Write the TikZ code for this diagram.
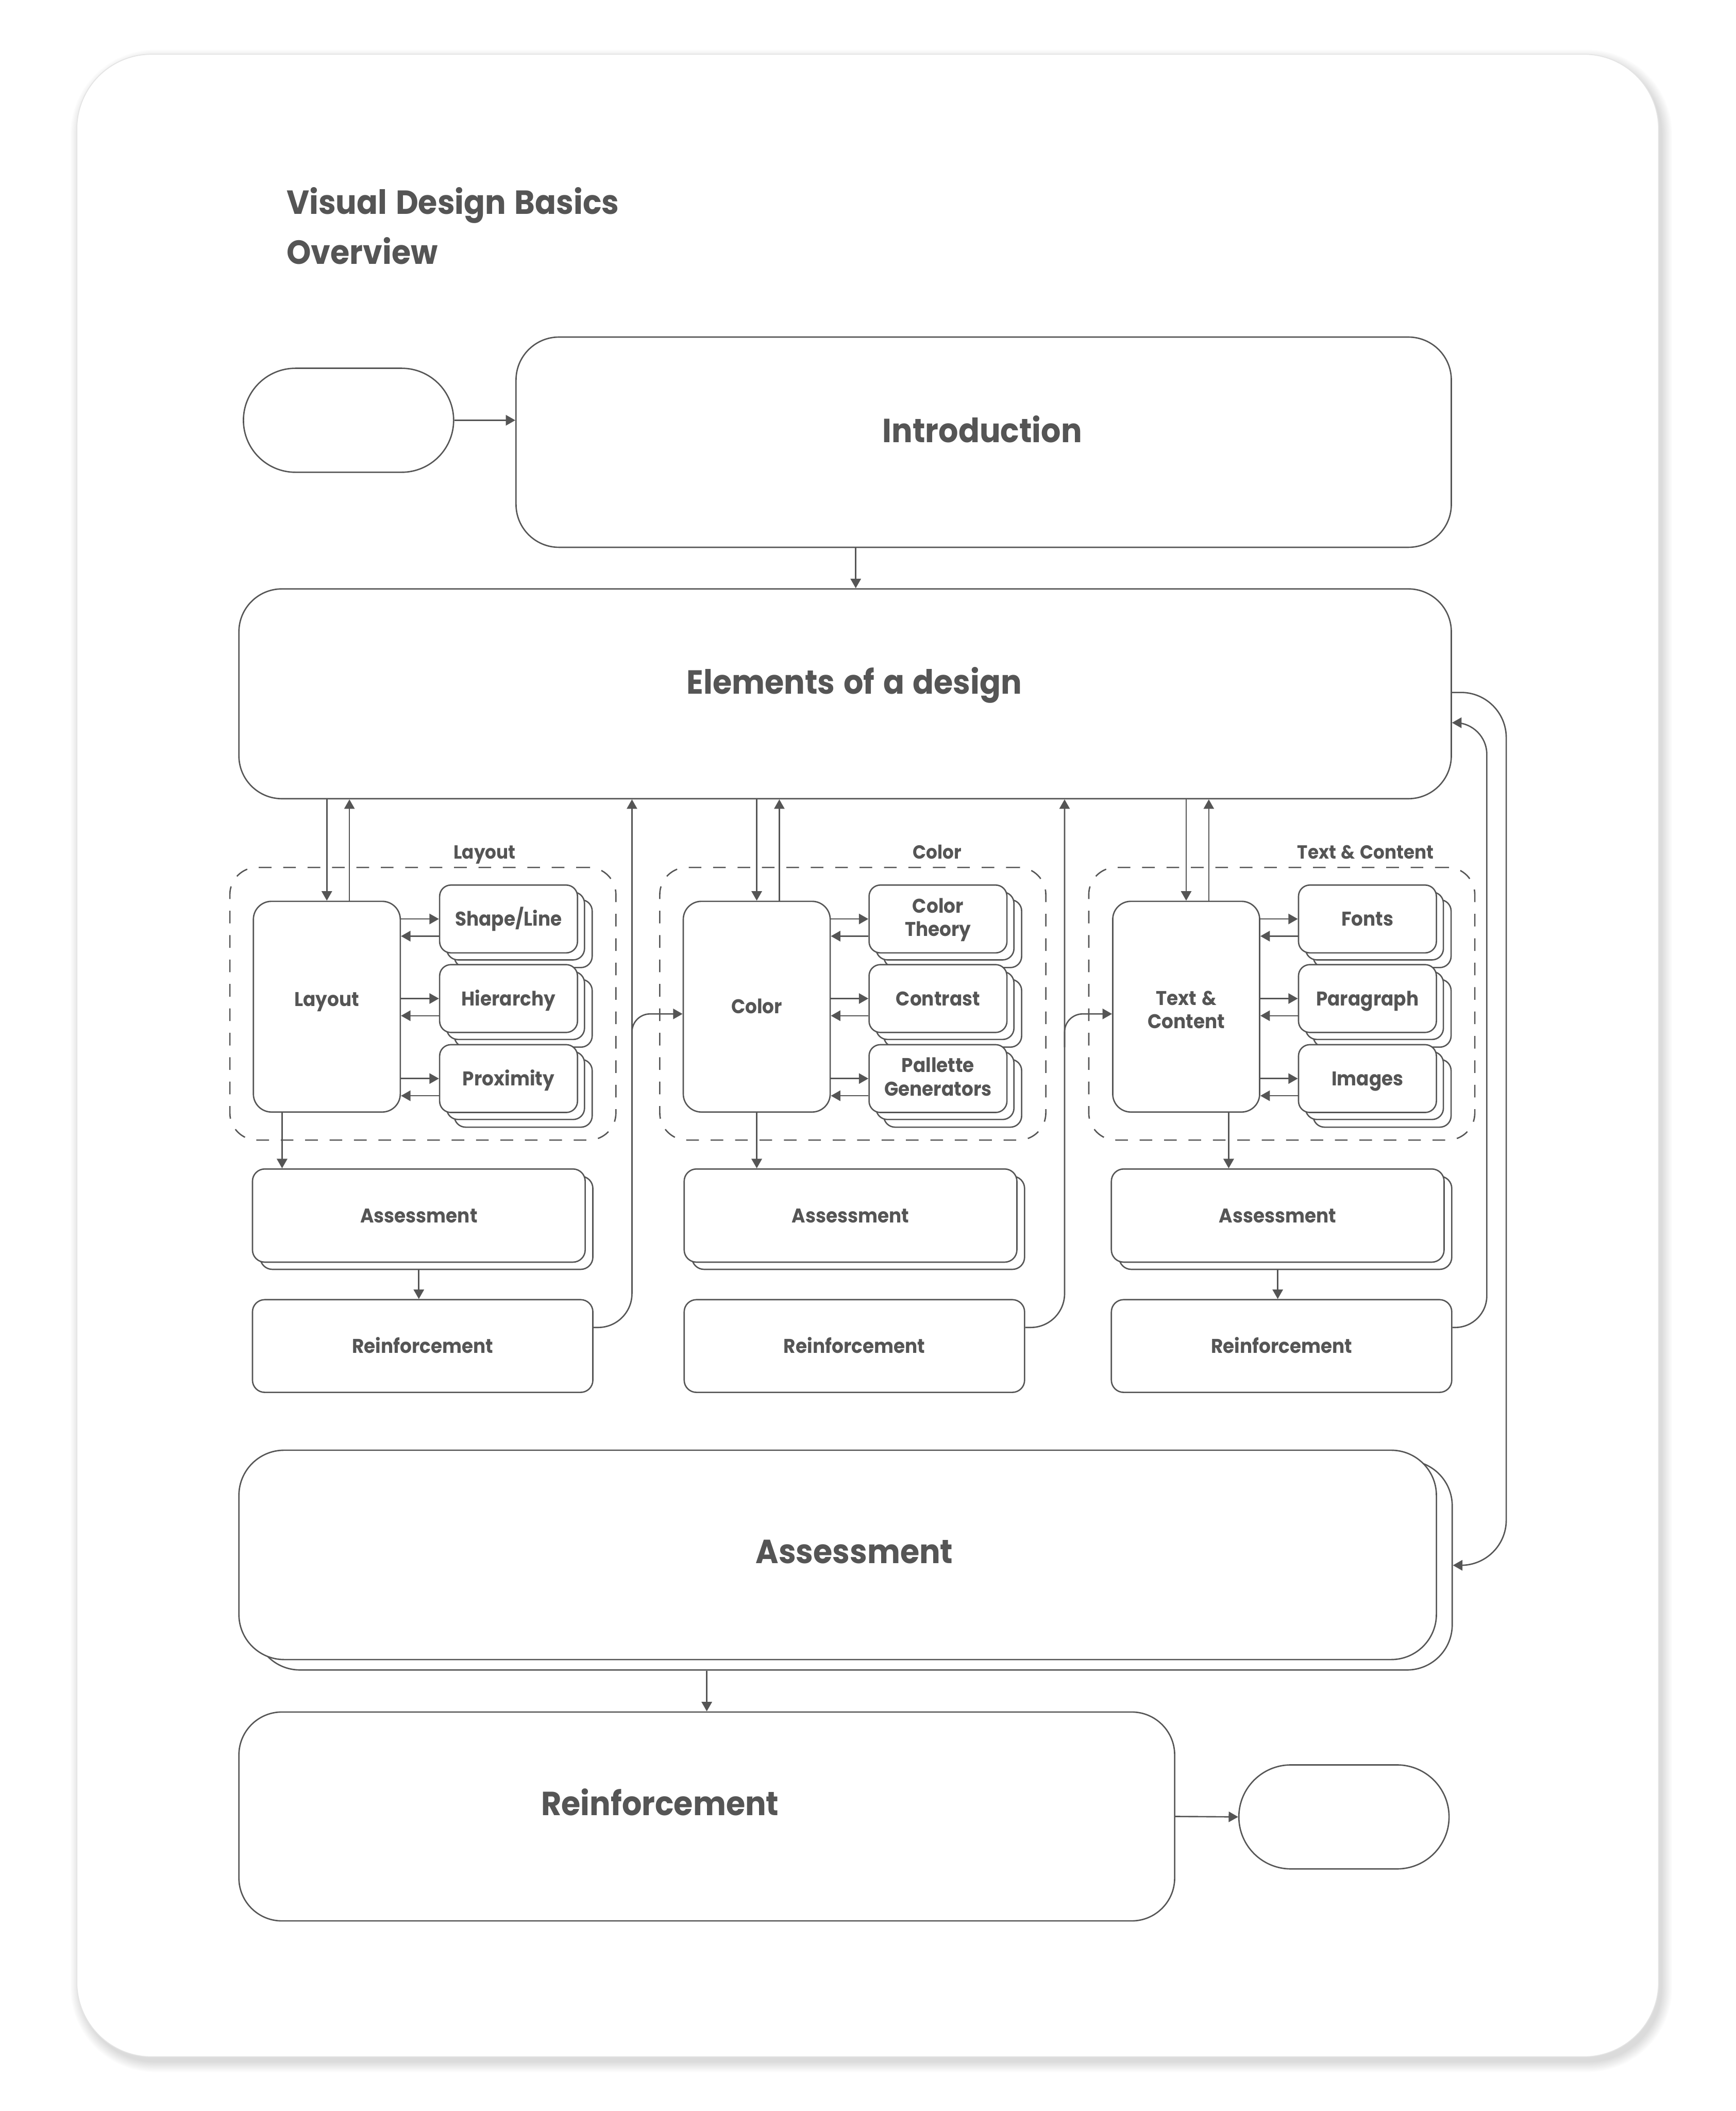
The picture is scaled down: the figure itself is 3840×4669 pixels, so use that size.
\documentclass[tikz,border=0pt]{standalone}
\usepackage{fontspec}
\setmainfont{Poppins}[FakeStretch=0.93, WordSpace=1.3]
\usetikzlibrary{arrows.meta,calc}
\definecolor{ink}{HTML}{555555}
\definecolor{rim}{HTML}{E4E4E4}
\newcommand\dgTitle{\bfseries\fontsize{74}{110}\selectfont}
\newcommand\dgBig{\bfseries\fontsize{74}{88}\selectfont}
\newcommand\dgSmall{\bfseries\fontsize{44}{52}\selectfont}
\newcommand\dgGroup{\bfseries\fontsize{42}{50}\selectfont}
\newcommand\dgTwo[3][-23pt]{\raisebox{#1}{\begin{tabular}[b]{@{}c@{}}#2\\#3\end{tabular}}}
\newcommand\dgStack[4]{%
  \draw[ln, fill=white, rounded corners=25pt] ($(#2,#3)+(34,34)$) rectangle +(305,150);
  \draw[ln, fill=white, rounded corners=25pt] ($(#2,#3)+(17,17)$) rectangle +(305,150);
  \node[subbox] (#1) at (#2,#3) {#4};
}
\begin{document}
\begin{tikzpicture}[x=1pt, y=-1pt,
  ln/.style={draw=ink, line width=3pt},
  box/.style={ln, fill=white, rectangle, inner sep=0pt, anchor=north west, text=ink, font=\dgSmall, align=center, text height=31pt, text depth=0pt},
  subbox/.style={box, minimum width=305pt, minimum height=150pt, rounded corners=25pt},
  mainbox/.style={box, minimum width=325pt, minimum height=466pt, rounded corners=40pt},
  assbox/.style={box, minimum width=736pt, minimum height=206pt, rounded corners=27pt},
  reinbox/.style={box, minimum width=753pt, minimum height=205pt, rounded corners=27pt},
  bigbox/.style={box, rounded corners=95pt},
  term/.style={box, minimum width=465pt, minimum height=230pt, rounded corners=115pt},
  grp/.style={draw=ink, line width=3pt, dash pattern=on 28pt off 26pt, rounded corners=60pt, rectangle, inner sep=0pt, anchor=north west, minimum width=854pt, minimum height=603pt},
  grplabel/.style={text=ink, font=\dgGroup, inner sep=0pt, text height=30pt, text depth=0pt},
  bigtext/.style={text=ink, font=\dgBig, inner sep=0pt, text height=52pt, text depth=0pt},
  arr/.style={draw=ink, line width=3pt, -{Triangle[length=21pt,width=23pt]}},
  titletext/.style={anchor=base west, inner sep=0pt, text=ink, font=\dgTitle}
]
\useasboundingbox (0,0) rectangle (3840,4669);
\fill[white] (0,0) rectangle (3840,4669);
% frame with soft shadow
\foreach \s in {0,2,...,22} {
  \pgfmathsetmacro\rr{165+\s}
  \fill[black, opacity=0.011, rounded corners=\rr pt] ({178-\s},{132-\s}) rectangle ({3677+\s},{4561+\s});
}
\fill[white, rounded corners=165pt] (170,120) rectangle (3669,4549);
\draw[rim, line width=2pt, rounded corners=165pt] (170,120) rectangle (3669,4549);

% title
\node[titletext] (title1) at (634,474) {Visual Design Basics};
\node[titletext] (title2) at (634,584) {Overview};

% top boxes
\node[term] (start) at (537,813) {};
\node[bigbox, minimum width=2069pt, minimum height=465pt] (intro) at (1140,744) {};
\node[bigtext] (introT) at (2173,953) {Introduction};
\node[bigbox, minimum width=2682pt, minimum height=464pt] (elem) at (527,1301) {};
\node[bigtext] (elemT) at (1890,1509) {Elements of a design};

% groups
\node[grp] (g1) at (507,1917) {};
\node[grp] (g2) at (1458,1917) {};
\node[grp] (g3) at (2407,1917) {};
\node[grplabel] (g1L) at (1072,1885) {Layout};
\node[grplabel] (g2L) at (2073,1885) {Color};
\node[grplabel] (g3L) at (3021,1885) {Text \& Content};

% main boxes
\node[mainbox] (lay) at (559,1992) {\raisebox{16pt}{Layout}};
\node[mainbox] (col) at (1510,1992) {Color};
\node[mainbox] (txt) at (2460,1992) {\dgTwo[-33pt]{Text \&}{Content}};

% sub stacks
\dgStack{s11}{971}{1956}{Shape/Line}
\dgStack{s12}{971}{2132}{Hierarchy}
\dgStack{s13}{971}{2309}{Proximity}
\dgStack{s21}{1921}{1956}{\dgTwo{Color}{Theory}}
\dgStack{s22}{1921}{2132}{Contrast}
\dgStack{s23}{1921}{2309}{\dgTwo{Pallette}{Generators}}
\dgStack{s31}{2871}{1956}{Fonts}
\dgStack{s32}{2871}{2132}{Paragraph}
\dgStack{s33}{2871}{2309}{Images}

% small assessments and reinforcements
\node[assbox] (a1b) at (574,2600) {};
\node[assbox] (a1) at (557,2584) {Assessment};
\node[assbox] (a2b) at (1529,2600) {};
\node[assbox] (a2) at (1512,2584) {Assessment};
\node[assbox] (a3b) at (2474,2600) {};
\node[assbox] (a3) at (2457,2584) {Assessment};
\node[reinbox] (r1) at (557,2873) {Reinforcement};
\node[reinbox] (r2) at (1512,2873) {Reinforcement};
\node[reinbox] (r3) at (2457,2873) {Reinforcement};

% big bottom boxes
\node[bigbox, minimum width=2649pt, minimum height=463pt, rounded corners=100pt] (bigAb) at (562,3229) {};
\node[bigbox, minimum width=2649pt, minimum height=463pt, rounded corners=100pt] (bigA) at (527,3206) {};
\node[bigtext] (bigAT) at (1890,3432) {Assessment};
\node[bigbox, minimum width=2070pt, minimum height=462pt] (bigR) at (527,3785) {};
\node[bigtext] (bigRT) at (1460,3989) {Reinforcement};
\node[term] (end) at (2739,3902) {};

% helper x positions
\coordinate (ie) at (1893,0);
\coordinate (ax1) at (624,0);
\coordinate (ax3) at (2718,0);
\coordinate (v1) at (1398,0);
\coordinate (v2) at (2355,0);
\coordinate (v3) at (3289,0);
\coordinate (v4) at (3332,0);

% connectors
\draw[arr] (start.east) -- (start.east -| intro.west);
\draw[arr] (ie |- intro.south) -- (ie |- elem.north);

\foreach \m in {lay,col,txt} {
  \draw[arr] (\m.north |- elem.south) -- (\m.north);
  \draw[arr] ($(\m.north)+(50,0)$) -- ($(\m.north |- elem.south)+(50,0)$);
}
\foreach \m/\s in {lay/s11,lay/s12,lay/s13,col/s21,col/s22,col/s23,txt/s31,txt/s32,txt/s33} {
  \draw[arr] (\s.west -| \m.east) -- (\s.west);
  \draw[arr] ($(\s.west)+(0,38)$) -- ($(\s.west -| \m.east)+(0,38)$);
}

\draw[arr] (lay.south -| ax1) -- (ax1 |- a1.north);
\draw[arr] (col.south) -- (col.south |- a2.north);
\draw[arr] (txt.south -| ax3) -- (ax3 |- a3.north);
\draw[arr] (a1.south |- a1b.south) -- (a1.south |- r1.north);
\draw[arr] (a3.south |- a3b.south) -- (a3.south |- r3.north);

\draw[arr, rounded corners=75pt] ($(r1.east)+(0,-41)$) -| (v1 |- elem.south);
\draw[arr, rounded corners=40pt] ($(v1 |- col.west)+(0,90)$) |- ($(col.west)+(0,16)$);
\draw[arr, rounded corners=75pt] ($(r2.east)+(0,-41)$) -| (v2 |- elem.south);
\draw[arr, rounded corners=40pt] ($(v2 |- txt.west)+(0,90)$) |- ($(txt.west)+(0,16)$);
\draw[arr, rounded corners=70pt] ($(r3.east)+(0,-41)$) -| ($(v3 |- elem.east)+(0,64)$) -- ($(elem.east)+(0,64)$);
\draw[arr, rounded corners=100pt] ($(elem.east)+(0,-3)$) -| (v4 |- bigAb.east) -- (bigAb.east);

\draw[arr] (bigR.north |- bigAb.south) -- (bigR.north);
\draw[arr] (bigR.east) -- (end.west);
\end{tikzpicture}
\end{document}
